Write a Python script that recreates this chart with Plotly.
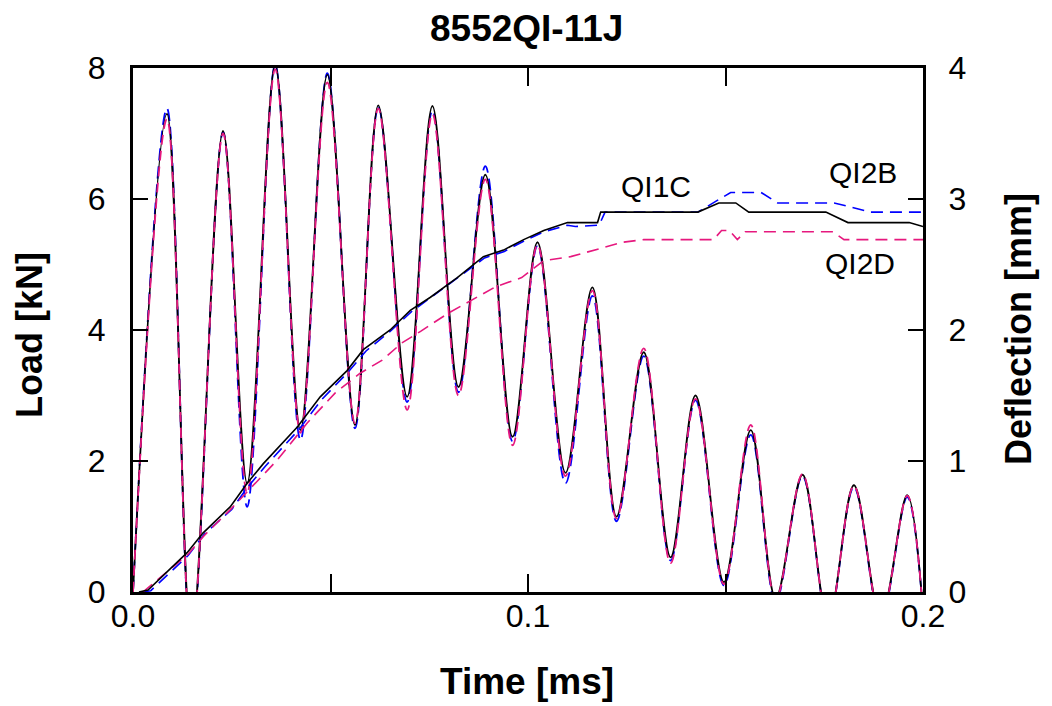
import plotly.graph_objects as go

# ---- Load data (key points), time in ms, load in kN ----
t_load = [0.0000, 0.0086, 0.0148, 0.0228, 0.0289, 0.0360, 0.0424, 0.0492, 0.0562, 0.0621,
          0.0694, 0.0758, 0.0824, 0.0892, 0.0961, 0.1024, 0.1095, 0.1163, 0.1224, 0.1293,
          0.1361, 0.1424, 0.1496, 0.1564, 0.1627, 0.1695, 0.1760, 0.1825, 0.1893, 0.1960, 0.2000]
load_QI1C = [0.0, 7.30, -0.75, 7.04, 1.66, 8.05, 2.47, 7.90, 2.55, 7.43, 2.98, 7.42, 3.13, 6.37, 2.37,
             5.34, 1.82, 4.65, 1.15, 3.66, 0.53, 3.00, 0.15, 2.47, -0.10, 1.79, -0.45, 1.63, -0.40, 1.48, -0.30]
load_QI2B = [0.0, 7.38, -0.80, 7.02, 1.30, 8.05, 2.32, 7.92, 2.50, 7.40, 2.90, 7.35, 3.05, 6.50, 2.30,
             5.28, 1.66, 4.52, 1.08, 3.60, 0.48, 2.93, 0.10, 2.40, -0.15, 1.77, -0.45, 1.60, -0.42, 1.45, -0.30]
load_QI2D = [0.0, 7.22, -0.75, 7.00, 1.51, 7.98, 2.43, 7.78, 2.58, 7.38, 2.78, 7.30, 3.00, 6.30, 2.24,
             5.30, 1.77, 4.60, 1.12, 3.72, 0.44, 2.95, 0.12, 2.55, -0.12, 1.80, -0.45, 1.62, -0.40, 1.47, -0.30]

# ---- Deflection data, time in ms, deflection in mm ----
t_def_QI1C = [0.0015, 0.0038, 0.0137, 0.0177, 0.0246, 0.0289, 0.0330, 0.0416, 0.0474, 0.0542,
              0.0583, 0.0651, 0.0702, 0.0753, 0.0821, 0.0887, 0.0938, 0.0989, 0.1040, 0.1100,
              0.1176, 0.1184, 0.1430, 0.1483, 0.1526, 0.1559, 0.1754, 0.1810, 0.1965, 0.2000]
def_QI1C = [0.00, 0.015, 0.30, 0.45, 0.65, 0.83, 0.98, 1.26, 1.49, 1.69,
            1.85, 2.00, 2.15, 2.25, 2.40, 2.56, 2.61, 2.69, 2.76, 2.82,
            2.82, 2.90, 2.90, 2.97, 2.97, 2.90, 2.90, 2.82, 2.82, 2.79]

t_def_QI2B = [0.0025, 0.0045, 0.0140, 0.0180, 0.0250, 0.0290, 0.0335, 0.0420, 0.0478, 0.0545,
              0.0590, 0.0655, 0.0705, 0.0755, 0.0825, 0.0890, 0.0940, 0.0990, 0.1040, 0.1100,
              0.1120, 0.1180, 0.1195, 0.1430, 0.1513, 0.1590, 0.1632, 0.1775, 0.1868, 0.2000]
def_QI2B = [0.00, 0.01, 0.28, 0.44, 0.63, 0.80, 0.96, 1.24, 1.47, 1.68,
            1.84, 2.00, 2.14, 2.25, 2.40, 2.55, 2.60, 2.68, 2.75, 2.80,
            2.79, 2.80, 2.90, 2.90, 3.05, 3.05, 2.97, 2.97, 2.90, 2.90]

t_def_QI2D = [0.0025, 0.0140, 0.0180, 0.0250, 0.0300, 0.0363, 0.0441, 0.0512, 0.0575, 0.0631,
              0.0680, 0.0728, 0.0799, 0.0860, 0.0918, 0.0984, 0.1040, 0.1108, 0.1169, 0.1240,
              0.1293, 0.1470, 0.1490, 0.1510, 0.1530, 0.1550, 0.1772, 0.1800, 0.2000]
def_QI2D = [0.00, 0.29, 0.43, 0.64, 0.80, 1.00, 1.29, 1.52, 1.67, 1.77,
            1.90, 1.99, 2.13, 2.23, 2.33, 2.40, 2.53, 2.56, 2.61, 2.67,
            2.69, 2.69, 2.76, 2.76, 2.69, 2.75, 2.75, 2.69, 2.69]

x_tickvals = [0.0, 0.05, 0.1, 0.15, 0.2]
x_ticktext = ["0.0", "", "0.1", "", "0.2"]
y_left_ticks = [0, 2, 4, 6, 8]
y_right_ticks = [0, 1, 2, 3, 4]

BLACK = "#000000"
BLUE = "#0000ff"
MAGENTA = "#e6187e"
FONT = "Liberation Sans, Arial, sans-serif"

fig = go.Figure()

# Deflection curves (right axis)
fig.add_trace(go.Scatter(x=t_def_QI2B, y=def_QI2B, yaxis="y2", mode="lines",
                         line=dict(color=BLUE, width=1.6, dash="12px,7px"), name="QI2B defl"))
fig.add_trace(go.Scatter(x=t_def_QI2D, y=def_QI2D, yaxis="y2", mode="lines",
                         line=dict(color=MAGENTA, width=1.6, dash="12px,7px"), name="QI2D defl"))
fig.add_trace(go.Scatter(x=t_def_QI1C, y=def_QI1C, yaxis="y2", mode="lines",
                         line=dict(color=BLACK, width=1.6), name="QI1C defl"))

# Load curves (left axis)
fig.add_trace(go.Scatter(x=t_load, y=load_QI2B, mode="lines",
                         line=dict(color=BLUE, width=1.8, dash="12px,6px", shape="spline"), name="QI2B"))
fig.add_trace(go.Scatter(x=t_load, y=load_QI1C, mode="lines",
                         line=dict(color=BLACK, width=1.8, shape="spline"), name="QI1C"))
fig.add_trace(go.Scatter(x=t_load, y=load_QI2D, mode="lines",
                         line=dict(color=MAGENTA, width=1.8, dash="10px,6px", shape="spline"), name="QI2D"))

axis_font = dict(family=FONT, size=32, color="black")

# The page body adds an 8px offset; the figure is sized so the plot area lands at 133..923 x 68..592
fig.update_layout(
    width=1044, height=698,
    margin=dict(l=125, r=129, t=60, b=114),
    paper_bgcolor="white", plot_bgcolor="white",
    showlegend=False,
    xaxis=dict(range=[0, 0.2], tickvals=x_tickvals, ticktext=x_ticktext,
               ticks="inside", ticklen=18, tickwidth=1.5, tickcolor="black",
               showline=True, linewidth=3, linecolor="black", mirror="ticks",
               showgrid=False, zeroline=False, tickfont=axis_font, ticklabelstandoff=-6),
    yaxis=dict(range=[0, 8], tickvals=y_left_ticks,
               ticks="inside", ticklen=15, tickwidth=1.5, tickcolor="black",
               showline=True, linewidth=3, linecolor="black",
               showgrid=False, zeroline=False, tickfont=axis_font, ticklabelstandoff=18),
    yaxis2=dict(range=[0, 4], tickvals=y_right_ticks, overlaying="y", side="right",
                ticks="inside", ticklen=15, tickwidth=1.5, tickcolor="black",
                showline=True, linewidth=3, linecolor="black",
                showgrid=False, zeroline=False, tickfont=axis_font, ticklabelstandoff=16),
)

title_font = dict(family=FONT, size=37, color="black")
ann = [
    dict(text="<b>8552QI-11J</b>", xref="paper", yref="paper", x=0.4987, y=(592 - 28) / 524,
         xanchor="center", yanchor="middle", showarrow=False,
         font=dict(family=FONT, size=37, color="black")),
    dict(text="<b>Time [ms]</b>", xref="paper", yref="paper", x=0.4987, y=(592 - 681) / 524,
         xanchor="center", yanchor="middle", showarrow=False, font=title_font),
    dict(text="<b>Load [kN]</b>", xref="paper", yref="paper", x=(29 - 133) / 790, y=(592 - 335) / 524,
         xanchor="center", yanchor="middle", showarrow=False, textangle=-90,
         font=dict(family=FONT, size=36, color="black")),
    dict(text="<b>Deflection [mm]</b>", xref="paper", yref="paper", x=(1018 - 133) / 790, y=(592 - 329) / 524,
         xanchor="center", yanchor="middle", showarrow=False, textangle=-90,
         font=dict(family=FONT, size=36, color="black")),
    dict(text="QI1C", xref="x", yref="y2", x=0.1323, y=3.092, xanchor="center", yanchor="middle",
         showarrow=False, font=dict(family=FONT, size=30, color="black")),
    dict(text="QI2B", xref="x", yref="y2", x=0.1848, y=3.206, xanchor="center", yanchor="middle",
         showarrow=False, font=dict(family=FONT, size=30, color="black")),
    dict(text="QI2D", xref="x", yref="y2", x=0.1840, y=2.511, xanchor="center", yanchor="middle",
         showarrow=False, font=dict(family=FONT, size=30, color="black")),
]
fig.update_layout(annotations=ann)

fig.write_html("out.html")
